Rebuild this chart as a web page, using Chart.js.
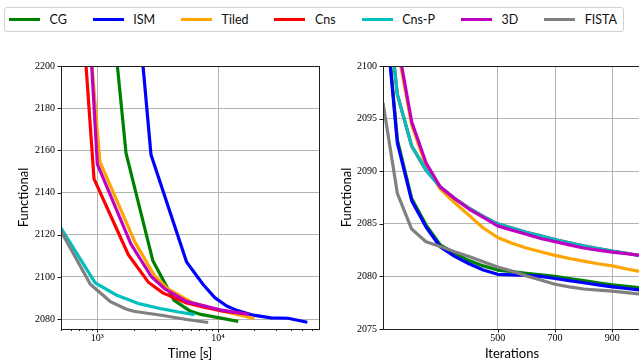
<!DOCTYPE html>
<html>
<head>
<meta charset="utf-8">
<script src="https://cdn.jsdelivr.net/npm/chart.js@4"></script>
<style>
  html, body { margin: 0; padding: 0; background: #fff; overflow: hidden; }
  #wrap { position: relative; width: 639px; height: 362px; overflow: hidden; background: #fff; }
  #timeChart { position: absolute; left: 0; top: 0; }
  #iterChart { position: absolute; left: 330px; top: 0; }
  #legend {
    position: absolute; left: 4px; top: 7px; width: 620px; height: 25px;
    box-sizing: border-box; border: 1px solid #d0d0d0; border-radius: 3px; background: #fff;
    display: flex; align-items: center; justify-content: space-between;
    padding: 0 6px 0 4px; font: 12.5px Lato, "Open Sans", sans-serif; color: #111;
  }
  .item { display: flex; align-items: center; white-space: nowrap; }
  .swatch { width: 31px; height: 3px; margin-right: 9.5px; }
</style>
</head>
<body>
<div id="wrap">
  <canvas id="timeChart" width="330" height="362"></canvas>
  <canvas id="iterChart" width="320" height="362"></canvas>
  <div id="legend"></div>
</div>
<script>
// ---- series ----
const seriesNames = ['CG', 'ISM', 'Tiled', 'Cns', 'Cns-P', '3D', 'FISTA'];
const seriesColors = ['#008000', '#0000ff', '#ffa500', '#ff0000', '#00bfbf', '#bf00bf', '#808080'];

// Functional against wall-clock time [s]
const timeCG = [1154, 1729, 2880, 4300, 5800, 7200, 9800, 14700];
const funcTimeCG = [2260, 2158.7, 2107.8, 2089.0, 2084.0, 2082.2, 2080.8, 2078.9];
const timeISM = [1925, 2785, 5500, 7500, 9400, 11800, 14500, 19000, 27500, 38000, 55000];
const funcTimeISM = [2260, 2157.9, 2107.0, 2096.5, 2090.2, 2086.2, 2084.0, 2082.0, 2080.6, 2080.4, 2078.5];
const timeTiled = [740, 1050, 2050, 2950, 3800, 6000, 10400, 20000];
const funcTimeTiled = [2260, 2154.7, 2116.5, 2101.0, 2094.5, 2088.0, 2084.1, 2080.3];
const timeCns = [680, 939, 1807, 2645, 3520, 5500, 7500, 11000, 16500];
const funcTimeCns = [2260, 2146.5, 2110.5, 2097.5, 2092.3, 2087.6, 2085.8, 2083.8, 2082.6];
const timeCnsP = [500, 960, 1450, 2250, 3300, 4600, 6400];
const funcTimeCnsP = [2123.2, 2097.2, 2091.3, 2087.2, 2085.0, 2083.5, 2082.1];
const time3D = [783, 1000, 1900, 2800, 3600, 5500, 10400, 18000];
const funcTime3D = [2260, 2153.5, 2115.5, 2100.2, 2094.5, 2088.3, 2084.4, 2082.2];
const timeFISTA = [500, 875, 1280, 1750, 2000, 3500, 5500, 8300];
const funcTimeFISTA = [2121.7, 2096.5, 2088.3, 2084.7, 2083.7, 2081.7, 2079.8, 2078.4];

// Functional against iteration count
const iterations = [100, 150, 200, 250, 300, 350, 400, 450, 500, 550, 600, 650, 700, 750, 800, 850, 900, 950, 1000];
const funcIterCG = [2108.0, 2093.0, 2087.4, 2084.9, 2083.0, 2082.2, 2081.5, 2081.0, 2080.6, 2080.45, 2080.3, 2080.15, 2080.0, 2079.8, 2079.6, 2079.4, 2079.2, 2079.05, 2078.9];
const funcIterISM = [2107.5, 2092.7, 2087.2, 2084.7, 2082.8, 2081.9, 2081.2, 2080.6, 2080.2, 2080.15, 2080.1, 2080.0, 2079.8, 2079.6, 2079.4, 2079.2, 2079.0, 2078.85, 2078.7];
const funcIterTiled = [2118.0, 2101.8, 2094.4, 2090.5, 2088.3, 2087.0, 2085.8, 2084.6, 2083.7, 2083.15, 2082.7, 2082.35, 2082.0, 2081.7, 2081.45, 2081.2, 2081.0, 2080.7, 2080.45];
const funcIterCns = [2110.0, 2097.3, 2092.4, 2090.1, 2088.5, 2087.4, 2086.5, 2085.7, 2085.0, 2084.6, 2084.2, 2083.85, 2083.5, 2083.2, 2082.9, 2082.65, 2082.4, 2082.2, 2081.95];
const funcIterCnsP = [2110.0, 2097.3, 2092.4, 2090.1, 2088.5, 2087.4, 2086.5, 2085.7, 2085.0, 2084.6, 2084.2, 2083.85, 2083.5, 2083.2, 2082.9, 2082.65, 2082.4, 2082.2, 2081.95];
const funcIter3D = [2120.0, 2102.3, 2094.7, 2090.8, 2088.5, 2087.4, 2086.4, 2085.6, 2084.8, 2084.4, 2084.0, 2083.6, 2083.3, 2083.0, 2082.7, 2082.5, 2082.3, 2082.15, 2082.0];
const funcIterFISTA = [2096.5, 2087.9, 2084.5, 2083.3, 2082.85, 2082.35, 2081.9, 2081.4, 2080.9, 2080.5, 2080.05, 2079.65, 2079.25, 2079.0, 2078.8, 2078.7, 2078.6, 2078.45, 2078.3];

// ---- axis ticks ----
const timeDecades = [1000, 10000];
const timeDecadeLabels = ['10³', '10⁴'];
const timeTicksY = [2080, 2100, 2120, 2140, 2160, 2180, 2200];
const iterTicksX = [500, 700, 900];
const iterTicksY = [2075, 2080, 2085, 2090, 2095, 2100];

const timeSeries = [
  [timeCG, funcTimeCG], [timeISM, funcTimeISM], [timeTiled, funcTimeTiled], [timeCns, funcTimeCns],
  [timeCnsP, funcTimeCnsP], [time3D, funcTime3D], [timeFISTA, funcTimeFISTA]
];
const iterSeries = [funcIterCG, funcIterISM, funcIterTiled, funcIterCns, funcIterCnsP, funcIter3D, funcIterFISTA];

// ---- legend ----
const legendEl = document.getElementById('legend');
seriesNames.forEach((name, i) => {
  const item = document.createElement('div');
  item.className = 'item';
  const sw = document.createElement('span');
  sw.className = 'swatch';
  sw.style.background = seriesColors[i];
  const tx = document.createElement('span');
  tx.textContent = name;
  item.appendChild(sw);
  item.appendChild(tx);
  legendEl.appendChild(item);
});

// ---- shared styling ----
const tickFont = { family: '"Liberation Serif", "DejaVu Serif", serif', size: 10 };
const titleFont = { family: 'Lato, "Open Sans", sans-serif', size: 13 };
const gridColor = '#b4b4b4';

// frame around the plot area plus outward tick marks
const frameAndTicks = {
  id: 'frameAndTicks',
  afterDraw(chart) {
    const { ctx, chartArea: a, scales } = chart;
    ctx.save();
    ctx.strokeStyle = '#1e1e1e';
    ctx.lineWidth = 1;
    ctx.beginPath();
    scales.x.ticks.forEach(t => {
      const px = Math.round(scales.x.getPixelForValue(t.value)) + 0.5;
      const len = t.major ? 3.5 : 2;
      ctx.moveTo(px, a.bottom);
      ctx.lineTo(px, a.bottom + len);
    });
    scales.y.ticks.forEach(t => {
      const py = Math.round(scales.y.getPixelForValue(t.value)) + 0.5;
      ctx.moveTo(a.left - 3.5, py);
      ctx.lineTo(a.left, py);
    });
    ctx.stroke();
    const l = Math.round(a.left) + 0.5, tp = Math.round(a.top) + 0.5;
    ctx.strokeRect(l, tp, Math.round(a.right) - Math.round(a.left), Math.round(a.bottom) - Math.round(a.top));
    ctx.restore();
  }
};

function lineDataset(name, i, points) {
  return {
    label: name,
    data: points,
    borderColor: seriesColors[i],
    backgroundColor: seriesColors[i],
    borderWidth: 3.2,
    borderJoinStyle: 'round',
    borderCapStyle: 'butt',
    pointRadius: 0,
    tension: 0,
    fill: false,
    clip: 0,
    order: seriesNames.length - 1 - i
  };
}

function yAxis(ticksArr, min, max, width, titlePad) {
  return {
    type: 'linear',
    min: min,
    max: max,
    afterBuildTicks(scale) { scale.ticks = ticksArr.map(v => ({ value: v, major: true })); },
    afterFit(scale) { scale.width = width; },
    grid: { color: gridColor, lineWidth: 1, drawTicks: false },
    border: { display: false },
    ticks: { font: tickFont, color: '#000', padding: 6, callback: v => String(v) },
    title: { display: true, text: 'Functional', font: titleFont, color: '#000', padding: { top: titlePad, bottom: 0 } }
  };
}

// ---- left: functional vs time (log axis) ----
new Chart(document.getElementById('timeChart'), {
  type: 'line',
  data: {
    datasets: seriesNames.map((name, i) => {
      const [xs, ys] = timeSeries[i];
      return lineDataset(name, i, xs.map((x, j) => ({ x: x, y: ys[j] })));
    })
  },
  options: {
    responsive: false,
    animation: false,
    layout: { padding: { top: 66, right: 11, bottom: 0, left: 0 } },
    plugins: { legend: { display: false }, tooltip: { enabled: false } },
    scales: {
      x: {
        type: 'logarithmic',
        min: 500,
        max: 68700,
        afterBuildTicks(scale) {
          const out = [];
          [100, 1000, 10000].forEach(d => {
            for (let m = 1; m <= 9; m++) {
              const v = m * d;
              if (v >= scale.min && v <= scale.max) out.push({ value: v, major: m === 1 });
            }
          });
          scale.ticks = out;
        },
        afterFit(scale) { scale.height = 33; },
        grid: {
          color: c => (c.tick && timeDecades.includes(c.tick.value)) ? gridColor : 'rgba(0,0,0,0)',
          lineWidth: 1,
          drawTicks: false
        },
        border: { display: false },
        ticks: {
          autoSkip: false, maxRotation: 0, minRotation: 0, padding: 3,
          font: tickFont, color: '#000',
          callback: v => {
            const k = timeDecades.indexOf(v);
            return k >= 0 ? timeDecadeLabels[k] : '';
          }
        },
        title: { display: true, text: 'Time [s]', font: titleFont, color: '#000', padding: { top: 0, bottom: 0.2 } }
      },
      y: yAxis(timeTicksY, 2075.3, 2200, 61, 16.2)
    }
  },
  plugins: [frameAndTicks]
});

// ---- right: functional vs iterations ----
new Chart(document.getElementById('iterChart'), {
  type: 'line',
  data: {
    datasets: seriesNames.map((name, i) =>
      lineDataset(name, i, iterations.map((it, j) => ({ x: it, y: iterSeries[i][j] }))))
  },
  options: {
    responsive: false,
    animation: false,
    layout: { padding: { top: 66, right: 9, bottom: 0, left: 0 } },
    plugins: { legend: { display: false }, tooltip: { enabled: false } },
    scales: {
      x: {
        type: 'linear',
        min: 100,
        max: 1000,
        afterBuildTicks(scale) { scale.ticks = iterTicksX.map(v => ({ value: v, major: true })); },
        afterFit(scale) { scale.height = 33; },
        grid: { color: gridColor, lineWidth: 1, drawTicks: false },
        border: { display: false },
        ticks: { autoSkip: false, maxRotation: 0, minRotation: 0, padding: 3, font: tickFont, color: '#000', callback: v => String(v) },
        title: { display: true, text: 'Iterations', font: titleFont, color: '#000', padding: { top: 0, bottom: 0.5 } }
      },
      y: yAxis(iterTicksY, 2075, 2100, 53, 8.9)
    }
  },
  plugins: [frameAndTicks]
});
</script>
</body>
</html>
